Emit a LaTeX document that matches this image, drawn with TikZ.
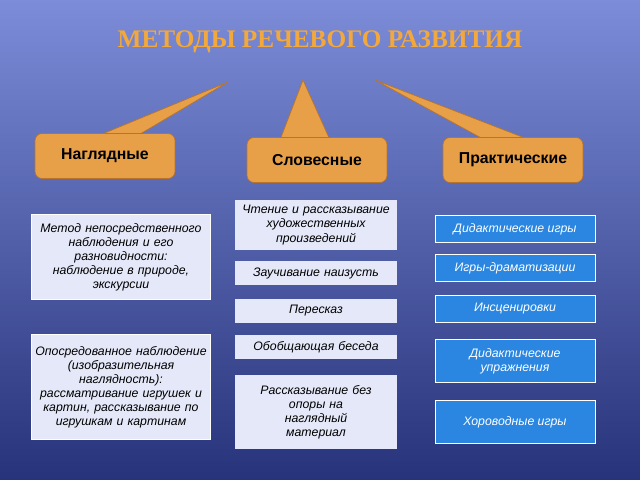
\documentclass[tikz,border=0pt]{standalone}
\usepackage{fontspec}
\setmainfont{Liberation Sans}
\newfontfamily\titlefont{Liberation Serif}
\definecolor{bgtop}{HTML}{7C8CD8}
\definecolor{bgbot}{HTML}{27337A}
\definecolor{orng}{HTML}{E8A048}
\definecolor{orngdk}{HTML}{B8742A}
\definecolor{ttl}{HTML}{F2A83A}
\definecolor{lite}{HTML}{E4E8F8}
\definecolor{blu}{HTML}{2A86E0}
\begin{document}
\begin{tikzpicture}[x=0.02cm,y=-0.02cm,
  cat/.style={draw=orngdk,fill=orng,rounded corners=4pt,minimum width=2.8cm,minimum height=0.9cm,font=\bfseries\small},
  tail/.style={fill=orng,draw=orngdk},
  lbox/.style={draw=white,fill=lite,text width=3.5cm,align=center,font=\itshape\scriptsize,inner sep=1pt},
  mbox/.style={fill=lite,text width=3.1cm,align=center,font=\itshape\scriptsize,inner sep=2pt},
  rbox/.style={draw=white,fill=blu,text=white,minimum width=3.2cm,align=center,font=\itshape\scriptsize,inner sep=3pt}]
\shade[top color=bgtop,bottom color=bgbot] (0,0) rectangle (640,480);
\useasboundingbox (0,0) rectangle (640,480);
\node[font=\titlefont\bfseries\Large,text=ttl] (title) at (320,42) {МЕТОДЫ РЕЧЕВОГО РАЗВИТИЯ};
% tails
\fill[tail] (95,137) -- (228,82) -- (135,137) -- cycle;
\fill[tail] (280,140) -- (303,80) -- (330,140) -- cycle;
\fill[tail] (485,140) -- (375,80) -- (530,140) -- cycle;
% categories
\node[cat] (nagl) at (105,156) {Наглядные};
\node[cat] (slov) at (317,160) {Словесные};
\node[cat] (prak) at (513,160) {Практические};
% left
\node[lbox,minimum height=1.7cm] (l1) at (121,257) {Метод непосредственного\\ наблюдения и его\\ разновидности:\\ наблюдение в природе,\\ экскурсии};
\node[lbox,minimum height=2.1cm] (l2) at (121,387) {Опосредованное наблюдение\\ (изобразительная\\ наглядность):\\ рассматривание игрушек и\\ картин, рассказывание по\\ игрушкам и картинам};
% middle
\node[mbox,minimum height=1cm] (m1) at (316,225) {Чтение и рассказывание\\ художественных\\ произведений};
\node[mbox,minimum height=0.5cm] (m2) at (316,273) {Заучивание наизусть};
\node[mbox,minimum height=0.5cm] (m3) at (316,311) {Пересказ};
\node[mbox,minimum height=0.5cm] (m4) at (316,347) {Обобщающая беседа};
\node[mbox,minimum height=1.5cm] (m5) at (316,412) {Рассказывание без\\ опоры на\\ наглядный\\ материал};
% right
\node[rbox,minimum height=0.55cm] (r1) at (515,229) {Дидактические игры};
\node[rbox,minimum height=0.55cm] (r2) at (515,268) {Игры-драматизации};
\node[rbox,minimum height=0.55cm] (r3) at (515,309) {Инсценировки};
\node[rbox,minimum height=0.85cm] (r4) at (515,361) {Дидактические\\ упражнения};
\node[rbox,minimum height=0.85cm] (r5) at (515,422) {Хороводные игры};
\end{tikzpicture}
\end{document}
